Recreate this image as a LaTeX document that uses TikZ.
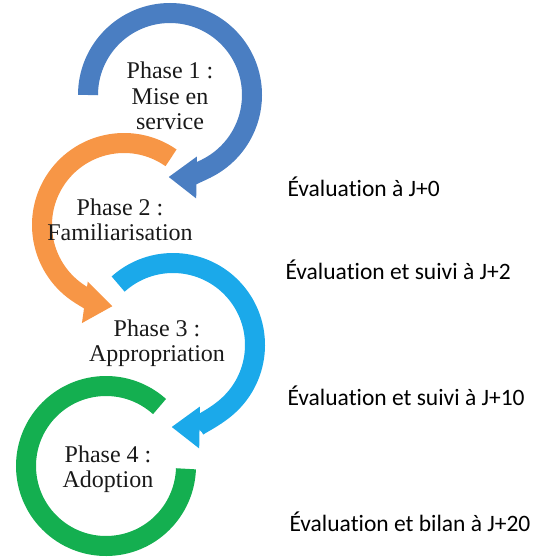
\documentclass[tikz,border=0pt]{standalone}
\usepackage{fontspec}
\setmainfont{Liberation Serif}
\newfontfamily\evalfont[RawFeature={-liga;-clig;-calt}]{Carlito}
\usetikzlibrary{arrows.meta}
\definecolor{phaseblue}{HTML}{4A7EC2}
\definecolor{phaseorange}{HTML}{F79646}
\definecolor{phasecyan}{HTML}{1BA9EA}
\definecolor{phasegreen}{HTML}{14AF50}

\begin{document}
\begin{tikzpicture}[x=1pt,y=1pt,
	ring/.style={line width=20pt},
	ringarrow/.style={ring, -{Triangle[width=40pt,length=28pt]}},
	phase/.style={align=center, text=black!90, font=\fontsize{24}{25.5}\selectfont},
	evaltext/.style={anchor=west, font=\evalfont\fontsize{23.5}{28}\selectfont}]
		%%%%% START %%%%%
		
		\useasboundingbox (0,0) rectangle (550,-557);
		
		% the four rings
		\draw[ringarrow, phaseblue] (170,-95) ++(180:82) arc[start angle=180, end angle=-91, radius=82];
		\draw[ringarrow, phaseorange] (124,-225) ++(55:82) arc[start angle=55, end angle=262, radius=82];
		\draw[ringarrow, phasecyan] (173,-345) ++(132:82) arc[start angle=132, end angle=-91, radius=82];
		\draw[ring, phasegreen] (106,-466) ++(48:80) arc[start angle=48, end angle=358, radius=80];
		
		% phases
		\node[phase] (phase1) at (170,-96) {Phase 1 :\\Mise en\\service};
		\node[phase] (phase2) at (120,-220) {Phase 2 :\\Familiarisation};
		\node[phase] (phase3) at (157,-343) {Phase 3 :\\Appropriation};
		\node[phase] (phase4) at (108,-469) {Phase 4 :\\Adoption};
		
		% evaluations
		\node[evaltext] (eval1) at (284,-187) {Évaluation à J+0};
		\node[evaltext] (eval2) at (282,-270) {Évaluation et suivi à J+2};
		\node[evaltext] (eval3) at (284,-396) {Évaluation et suivi à J+10};
		\node[evaltext] (eval4) at (286,-522) {Évaluation et bilan à J+20};
		
		%%%%% END %%%%%
	\end{tikzpicture}
\end{document}
